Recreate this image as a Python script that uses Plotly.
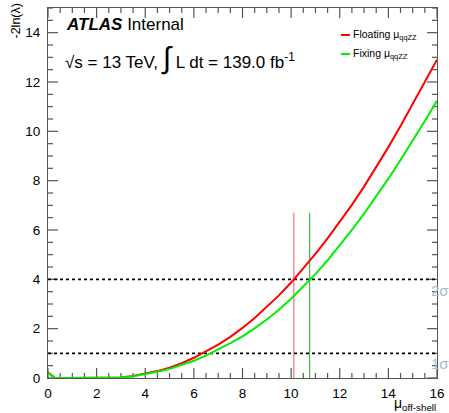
import plotly.graph_objects as go

# ---------------- data ----------------
mu = [0, 0.3, 1, 2, 3, 3.5, 4, 4.5, 5, 5.5, 6, 6.5, 7, 7.5, 8, 8.5, 9, 9.5,
      10, 10.5, 11, 11.5, 12, 12.5, 13, 13.5, 14, 14.5, 15, 15.5, 16]
nll_floating = [0.22, 0.0, 0.0, 0.0, 0.02, 0.08, 0.17, 0.28, 0.42, 0.60, 0.82, 1.07,
                1.35, 1.67, 2.03, 2.43, 2.87, 3.35, 3.87, 4.43, 5.03, 5.66, 6.32,
                7.02, 7.76, 8.54, 9.36, 10.22, 11.10, 12.0, 12.9]
nll_fixing = [0.2, 0.0, 0.0, 0.0, 0.02, 0.07, 0.15, 0.25, 0.37, 0.52, 0.70, 0.91,
              1.15, 1.41, 1.69, 2.01, 2.37, 2.77, 3.21, 3.69, 4.21, 4.77, 5.37,
              6.00, 6.66, 7.36, 8.08, 8.84, 9.62, 10.42, 11.24]
sigma_levels = [1, 4]
sigma_labels = ["1σ", "2σ"]
limit_floating = 10.11
limit_fixing = 10.76
limit_line_top = 6.7
series_names = ["Floating μ<sub>qqZZ</sub>", "Fixing μ<sub>qqZZ</sub>"]
x_range = [0, 16]
y_range = [0, 15]
major_step = 2
minor_step = 0.5

# ---------------- layout geometry ----------------
W, H = 449, 413
L, R, T, B = 48, 12, 8, 35
PW, PH = W - L - R, H - T - B

def px(xp):
    return (xp - L) / PW

def py(yp):
    return (H - B - yp) / PH

FONT = "Liberation Sans, Arial, Helvetica, sans-serif"
RED = "#ff0000"
GREEN = "#00ee00"
AXC = "#555555"

fig = go.Figure()

# ROOT-style inward ticks on all four sides, drawn as one line trace (axis decoration)
x_unit = (x_range[1] - x_range[0]) / PW   # data units per pixel
y_unit = (y_range[1] - y_range[0]) / PH
tx, ty = [], []
nx = int(round((x_range[1] - x_range[0]) / minor_step))
for i in range(nx + 1):
    v = x_range[0] + i * minor_step
    ln = 10 if abs(v / major_step - round(v / major_step)) < 1e-9 else 5
    tx += [v, v, None, v, v, None]
    ty += [y_range[0], y_range[0] + ln * y_unit, None, y_range[1], y_range[1] - ln * y_unit, None]
ny = int(round((y_range[1] - y_range[0]) / minor_step))
for i in range(ny + 1):
    v = y_range[0] + i * minor_step
    ln = 10 if abs(v / major_step - round(v / major_step)) < 1e-9 else 5
    tx += [x_range[0], x_range[0] + ln * x_unit, None, x_range[1], x_range[1] - ln * x_unit, None]
    ty += [v, v, None, v, v, None]
fig.add_trace(go.Scatter(x=tx, y=ty, mode="lines", line=dict(color=AXC, width=1.2),
                         showlegend=False, hoverinfo="skip", connectgaps=False))

# sigma reference lines
for lvl in sigma_levels:
    fig.add_trace(go.Scatter(x=x_range, y=[lvl, lvl], mode="lines",
                             line=dict(color="black", width=1.6, dash="dot"),
                             showlegend=False, hoverinfo="skip"))

# limit vertical lines
fig.add_trace(go.Scatter(x=[limit_floating, limit_floating], y=[0, limit_line_top],
                         mode="lines", line=dict(color="rgba(255,60,60,0.6)", width=1.5),
                         showlegend=False, hoverinfo="skip"))
fig.add_trace(go.Scatter(x=[limit_fixing, limit_fixing], y=[0, limit_line_top],
                         mode="lines", line=dict(color="rgba(40,170,40,0.85)", width=1.2),
                         showlegend=False, hoverinfo="skip"))

# curves
fig.add_trace(go.Scatter(x=mu, y=nll_floating, mode="lines", name=series_names[0],
                         line=dict(color=RED, width=2), showlegend=False))
fig.add_trace(go.Scatter(x=mu, y=nll_fixing, mode="lines", name=series_names[1],
                         line=dict(color=GREEN, width=2), showlegend=False))

axis_common = dict(showline=True, linecolor=AXC, linewidth=1.2, mirror=True,
                   ticks="", showgrid=False, zeroline=False,
                   tickfont=dict(family=FONT, size=13.5, color="black"))

fig.update_xaxes(range=x_range, tickmode="linear", dtick=major_step, tick0=0,
                 ticklabelstandoff=3, **axis_common)
fig.update_yaxes(range=y_range, tickmode="linear", dtick=major_step, tick0=0,
                 ticklabelstandoff=4, **axis_common)

# legend samples
shapes = [
    dict(type="line", xref="paper", yref="paper", x0=px(341), x1=px(350), y0=py(35), y1=py(35),
         line=dict(color=RED, width=2)),
    dict(type="line", xref="paper", yref="paper", x0=px(341), x1=px(350), y0=py(54), y1=py(54),
         line=dict(color=GREEN, width=2)),
]

annotations = [
    dict(x=px(64), y=py(24), text="<b><i>ATLAS</i></b> Internal",
         font=dict(family=FONT, size=17, color="black"), xanchor="left", yanchor="middle"),
    dict(x=px(63), y=py(58),
         text="√s = 13 TeV, <span style='font-size:30px'>∫</span> L dt = 139.0 fb<sup>-1</sup>",
         font=dict(family=FONT, size=17, color="black"), xanchor="left", yanchor="middle"),
    dict(x=px(351), y=py(35), text=series_names[0],
         font=dict(family=FONT, size=10.5, color="black"), xanchor="left", yanchor="middle"),
    dict(x=px(351), y=py(54), text=series_names[1],
         font=dict(family=FONT, size=10.5, color="black"), xanchor="left", yanchor="middle"),
    dict(x=px(16), y=py(2), text="-2ln(λ)", textangle=-90,
         font=dict(family=FONT, size=12.5, color="black"), xanchor="center", yanchor="top"),
    dict(x=px(438), y=py(404), text="μ<sub>off-shell</sub>",
         font=dict(family=FONT, size=14, color="black"), xanchor="right", yanchor="middle"),
]
sigma_y_px = [363, 290]
for lab, ypx in zip(sigma_labels, sigma_y_px):
    annotations.append(dict(x=px(429), y=py(ypx), text=lab,
                            font=dict(family=FONT, size=15, color="#a9b9cc"),
                            xanchor="left", yanchor="middle"))
for a in annotations:
    a.update(xref="paper", yref="paper", showarrow=False)

fig.update_layout(width=W, height=H, margin=dict(l=L, r=R, t=T, b=B, autoexpand=False),
                  paper_bgcolor="white", plot_bgcolor="white",
                  annotations=annotations, shapes=shapes, showlegend=False,
                  font=dict(family=FONT))

fig.write_html("out.html", config={"displayModeBar": False},
               post_script="document.body.style.margin='0';document.body.style.overflow='hidden';")
